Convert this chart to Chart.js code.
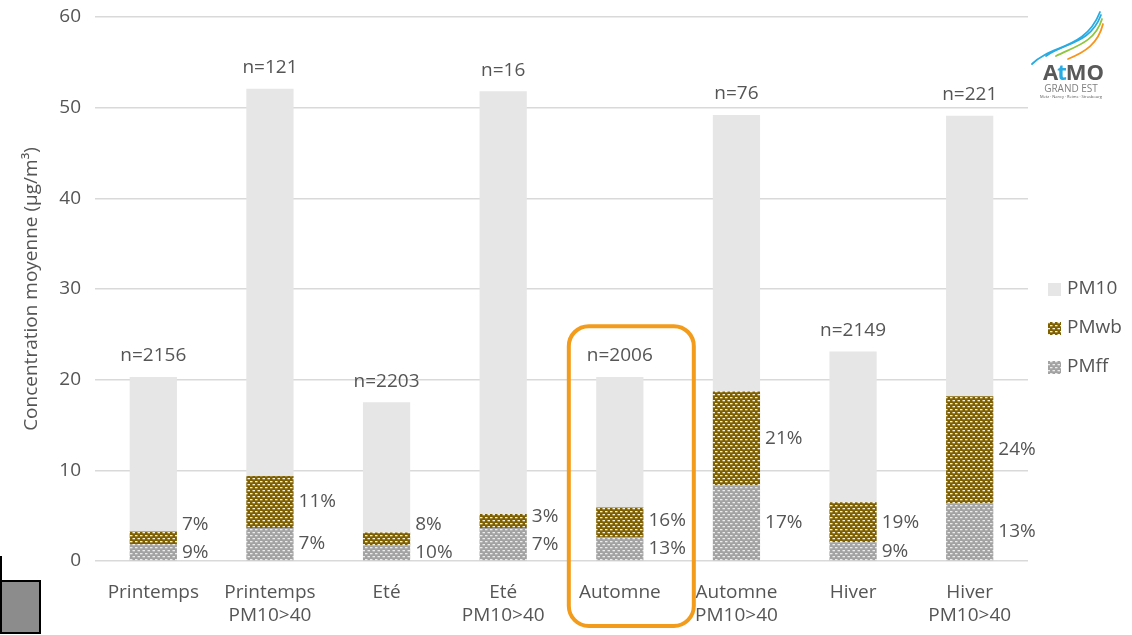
<!DOCTYPE html>
<html>
<head>
<meta charset="utf-8">
<script src="https://cdn.jsdelivr.net/npm/chart.js@4.4.0/dist/chart.umd.min.js"></script>
<style>
  body { margin: 0; background: #fff; }
  #wrap { position: relative; width: 1132px; height: 635px; }
  #corner { position: absolute; left: 0; top: 580px; width: 37px; height: 50px; background: #8c8c8c; border: 2px solid #000; box-sizing: content-box; }
  #cornerLine { position: absolute; left: 0; top: 556px; width: 2px; height: 25px; background: #000; }
</style>
</head>
<body>
<div id="wrap">
  <canvas id="Chart-pm" width="1132" height="635"></canvas>
  <div id="cornerLine"></div>
  <div id="corner"></div>
</div>
<script>
// seasons, with the high-pollution subsets (PM10 > 40)
var categories = [
  ['Printemps'], ['Printemps', 'PM10>40'],
  ['Eté'], ['Eté', 'PM10>40'],
  ['Automne'], ['Automne', 'PM10>40'],
  ['Hiver'], ['Hiver', 'PM10>40']
];
var sampleSizes = [2156, 121, 2203, 16, 2006, 76, 2149, 221];
// mean PM10 concentration (µg/m³)
var pm10Means = [20.3, 52.1, 17.5, 51.8, 20.3, 49.2, 23.1, 49.1];
// share of PM10 from fossil fuel / wood burning (%)
var pmffShare = [9, 7, 10, 7, 13, 17, 9, 13];
var pmwbShare = [7, 11, 8, 3, 16, 21, 19, 24];
var yTicks = [0, 10, 20, 30, 40, 50, 60];

var TEXT = '#555555';
var FONT = '"Open Sans", sans-serif';

var pmff = pm10Means.map(function (v, i) { return v * pmffShare[i] / 100; });
var pmwb = pm10Means.map(function (v, i) { return v * pmwbShare[i] / 100; });
var pmRest = pm10Means.map(function (v, i) { return v - pmff[i] - pmwb[i]; });

var ctx = document.getElementById('Chart-pm').getContext('2d');

// small offset rows of white dots on a solid base
function dotPattern(base, dot) {
  var c = document.createElement('canvas');
  c.width = 5; c.height = 6;
  var g = c.getContext('2d');
  g.fillStyle = base;
  g.fillRect(0, 0, 5, 6);
  g.fillStyle = dot;
  g.fillRect(0, 1, 2.5, 1.3);
  g.fillRect(2.5, 4, 2.5, 1.3);
  return ctx.createPattern(c, 'repeat');
}

var ffFill = dotPattern('#a3a3a3', '#ececec');
var wbFill = dotPattern('#7f6000', '#f4f0e0');
var restFill = '#e6e6e6';

function drawLogo(c) {
  c.save();
  c.lineCap = 'round';
  var swooshes = [
    ['#29abe2', 1032, 64, 1052, 44, 1085, 50, 1100, 12],
    ['#29abe2', 1046, 56, 1066, 42, 1090, 44, 1101, 15],
    ['#8dc63f', 1056, 56, 1076, 46, 1095, 42, 1102, 19],
    ['#f7941d', 1068, 59, 1085, 52, 1098, 44, 1103, 24]
  ];
  swooshes.forEach(function (s) {
    c.strokeStyle = s[0];
    c.lineWidth = 1.8;
    c.beginPath();
    c.moveTo(s[1], s[2]);
    c.bezierCurveTo(s[3], s[4], s[5], s[6], s[7], s[8]);
    c.stroke();
  });
  c.textBaseline = 'alphabetic';
  c.textAlign = 'left';
  c.font = 'bold 22px ' + FONT;
  var x = 1043;
  [['A', '#595959'], ['t', '#29abe2'], ['MO', '#595959']].forEach(function (p) {
    c.fillStyle = p[1];
    c.fillText(p[0], x, 80);
    x += c.measureText(p[0]).width - 1;
  });
  c.textAlign = 'center';
  c.fillStyle = '#808080';
  c.font = '10px ' + FONT;
  c.fillText('GRAND EST', 1071, 92);
  c.font = '4px ' + FONT;
  c.fillStyle = '#595959';
  c.fillText('Metz · Nancy · Reims · Strasbourg', 1071, 98);
  c.restore();
}

var labelsPlugin = {
  id: 'pmLabels',
  afterDatasetsDraw: function (chart) {
    var c = chart.ctx;
    var ff = chart.getDatasetMeta(0).data;
    var wb = chart.getDatasetMeta(1).data;
    var rest = chart.getDatasetMeta(2).data;
    c.save();
    c.font = '19px ' + FONT;
    c.fillStyle = TEXT;
    ff.forEach(function (bar, i) {
      var right = bar.x + bar.width / 2 + 5;
      var ffY = (bar.y + bar.base) / 2;
      var wbY = Math.min((wb[i].y + wb[i].base) / 2, ffY - 28);
      c.textAlign = 'left';
      c.textBaseline = 'middle';
      c.fillText(pmffShare[i] + '%', right, ffY);
      c.fillText(pmwbShare[i] + '%', right, wbY);
      c.textAlign = 'center';
      c.fillText('n=' + sampleSizes[i], bar.x, rest[i].y - 21);
    });
    c.restore();
  },
  afterDraw: function (chart) {
    var c = chart.ctx;
    var xs = chart.scales.x, ys = chart.scales.y;
    // highlight box around the Automne column
    var cx = xs.getPixelForValue(4);
    var left = cx - 51, right = cx + 74;
    var top = ys.getPixelForValue(25.9), bottom = chart.chartArea.bottom + 65;
    c.save();
    c.strokeStyle = '#f39c1b';
    c.lineWidth = 4;
    c.beginPath();
    c.roundRect(left, top, right - left, bottom - top, 20);
    c.stroke();

    // legend, top series first
    var items = [['PM10', restFill], ['PMwb', wbFill], ['PMff', ffFill]];
    c.font = '19px ' + FONT;
    c.textAlign = 'left';
    c.textBaseline = 'middle';
    items.forEach(function (it, k) {
      var y = 289 + k * 39;
      c.fillStyle = it[1];
      c.fillRect(1048, y - 6, 13, 13);
      c.fillStyle = TEXT;
      c.fillText(it[0], 1067, y);
    });
    c.restore();
    drawLogo(c);
  }
};

var pmChart = new Chart(ctx, {
  type: 'bar',
  data: {
    labels: categories,
    datasets: [
      { label: 'PMff', data: pmff, backgroundColor: ffFill },
      { label: 'PMwb', data: pmwb, backgroundColor: wbFill },
      { label: 'PM10', data: pmRest, backgroundColor: restFill }
    ]
  },
  options: {
    responsive: false,
    animation: false,
    datasets: { bar: { categoryPercentage: 1, barPercentage: 0.405, borderWidth: 0 } },
    layout: { padding: { top: 17, right: 104, bottom: 0, left: 0 } },
    plugins: { legend: { display: false }, tooltip: { enabled: false } },
    scales: {
      x: {
        stacked: true,
        grid: { display: false, drawTicks: false },
        border: { display: false },
        ticks: { color: TEXT, font: { family: FONT, size: 19 }, padding: 20, maxRotation: 0, autoSkip: false },
        afterFit: function (s) { s.height = 74; s.paddingLeft = 0; s.paddingRight = 0; }
      },
      y: {
        stacked: true,
        min: 0,
        max: 60,
        afterBuildTicks: function (s) { s.ticks = yTicks.map(function (v) { return { value: v }; }); },
        grid: { color: '#d9d9d9', lineWidth: 1.5, drawTicks: false },
        border: { display: false },
        ticks: { color: TEXT, font: { family: FONT, size: 19 }, padding: 14 },
        title: { display: true, text: 'Concentration moyenne (µg/m³)', color: TEXT, font: { family: FONT, size: 19 }, padding: { top: 20, bottom: 0 } },
        afterFit: function (s) { s.width = 95; s.paddingTop = 0; s.paddingBottom = 0; }
      }
    }
  },
  plugins: [labelsPlugin]
});
</script>
</body>
</html>
